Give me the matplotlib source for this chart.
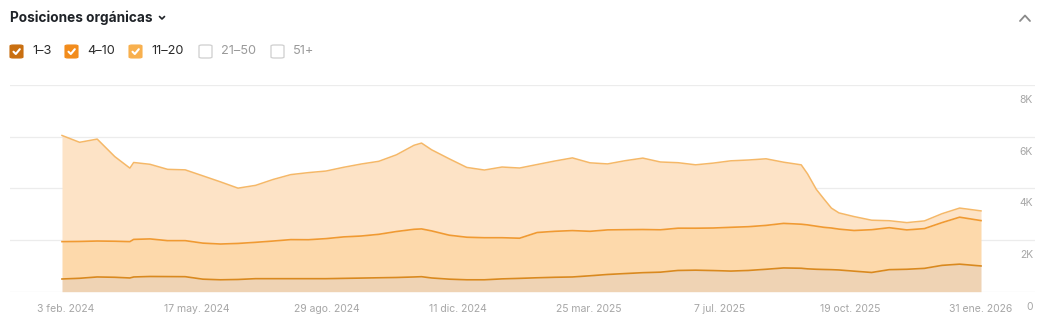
import matplotlib
matplotlib.use("Agg")
import matplotlib.pyplot as plt
from matplotlib.patches import FancyBboxPatch
from matplotlib.lines import Line2D
import numpy as np
import pandas as pd

# ---------------- data ----------------
dates = ["2024-01-31", "2024-02-14", "2024-02-28", "2024-03-13", "2024-03-25", "2024-03-28",
         "2024-04-10", "2024-04-24", "2024-05-08", "2024-05-22", "2024-06-05", "2024-06-19",
         "2024-07-03", "2024-07-17", "2024-07-31", "2024-08-14", "2024-08-28", "2024-09-11",
         "2024-09-25", "2024-10-09", "2024-10-23", "2024-11-06", "2024-11-12", "2024-11-20",
         "2024-12-04", "2024-12-18", "2025-01-01", "2025-01-15", "2025-01-29", "2025-02-12",
         "2025-02-26", "2025-03-12", "2025-03-26", "2025-04-09", "2025-04-23", "2025-05-07",
         "2025-05-21", "2025-06-04", "2025-06-18", "2025-07-02", "2025-07-16", "2025-07-30",
         "2025-08-13", "2025-08-27", "2025-09-10", "2025-09-15", "2025-09-22", "2025-09-28",
         "2025-10-04", "2025-10-10", "2025-10-22", "2025-11-05", "2025-11-19", "2025-12-03",
         "2025-12-17", "2025-12-31", "2026-01-14", "2026-01-31"]

pos_1_3 = [492, 519, 570, 558, 531, 570, 589, 585, 581, 485, 461, 473,
           504, 504, 504, 504, 504, 516, 527, 539, 550, 570, 581, 531,
           485, 461, 461, 496, 516, 539, 558, 570, 616, 667, 702, 736,
           756, 822, 833, 818, 798, 822, 868, 919, 907, 884, 868, 860,
           853, 841, 795, 744, 853, 868, 903, 1019, 1066, 996]

pos_4_10 = [1446, 1426, 1391, 1395, 1407, 1454, 1454, 1391, 1395, 1395, 1384, 1395,
            1407, 1457, 1512, 1508, 1550, 1605, 1628, 1682, 1779, 1845, 1849, 1822,
            1702, 1647, 1628, 1593, 1554, 1752, 1779, 1795, 1721, 1725, 1698, 1671,
            1640, 1636, 1624, 1647, 1694, 1694, 1698, 1725, 1705, 1702, 1667, 1632,
            1612, 1581, 1574, 1655, 1624, 1523, 1539, 1655, 1818, 1756]

pos_11_20 = [4109, 3837, 3946, 3275, 2845, 2977, 2888, 2760, 2740, 2605, 2407, 2140,
             2205, 2384, 2516, 2597, 2616, 2694, 2787, 2826, 2969, 3252, 3322, 3140,
             2957, 2702, 2620, 2736, 2717, 2632, 2721, 2814, 2651, 2554, 2671, 2764,
             2624, 2535, 2454, 2512, 2574, 2581, 2578, 2368, 2298, 1977, 1426, 1101,
             771, 628, 539, 368, 271, 283, 298, 345, 353, 376]

series_names = ["1–3", "4–10", "11–20", "21–50", "51+"]
series_checked = [True, True, True, False, False]

x_tick_dates = ["2024-02-03", "2024-05-17", "2024-08-29", "2024-12-11",
                "2025-03-25", "2025-07-07", "2025-10-19", "2026-01-31"]
x_tick_labels = ["3 feb. 2024", "17 may. 2024", "29 ago. 2024", "11 dic. 2024",
                 "25 mar. 2025", "7 jul. 2025", "19 oct. 2025", "31 ene. 2026"]
y_ticks = [0, 2000, 4000, 6000, 8000]
y_tick_labels = ["0", "2K", "4K", "6K", "8K"]

title = "Posiciones orgánicas"

# ---------------- style ----------------
W, H = 1044, 325
plt.rcParams["font.family"] = ["Inter", "DejaVu Sans"]
c13, c410, c1120 = "#c96f10", "#f28c1c", "#f8b04e"
fill13, fill410, fill1120 = "#efd3b4", "#fdd9ab", "#fde3c6"
line13, line410, line1120 = "#d9891f", "#f09a32", "#f5b868"
grid_c = "#ececec"
tick_c = "#a6a6a6"

fig = plt.figure(figsize=(W / 100, H / 100), dpi=100)
fig.patch.set_facecolor("white")

def fx(x):
    return x / W

def fy(y):
    return 1 - y / H

# axes: gridlines from x=10 to 1035, y 0 at 291.7 px, 8K at 85 px
ax_left, ax_right, ax_top, ax_bot = 10, 1035, 85, 291.7
ax = fig.add_axes([fx(ax_left), fy(ax_bot), (ax_right - ax_left) / W, (ax_bot - ax_top) / H])

d = pd.to_datetime(dates)
b = np.array(pos_1_3, dtype=float)
m = np.array(pos_4_10, dtype=float)
t = np.array(pos_11_20, dtype=float)
s1 = b
s2 = b + m
s3 = b + m + t

ax.fill_between(d, 0, s1, color=fill13, lw=0, zorder=2)
ax.fill_between(d, s1, s2, color=fill410, lw=0, zorder=2)
ax.fill_between(d, s2, s3, color=fill1120, lw=0, zorder=2)
ax.plot(d, s3, color=line1120, lw=1.1, zorder=4)
ax.plot(d, s2, color=line410, lw=1.2, zorder=4)
ax.plot(d, s1, color=line13, lw=1.2, zorder=4)

start = pd.Timestamp(dates[0])
end = pd.Timestamp(dates[-1])
px_per_day = (981 - 62) / (end - start).days
left_lim = start - pd.Timedelta(days=(62 - ax_left) / px_per_day)
right_lim = end + pd.Timedelta(days=(ax_right - 981) / px_per_day)
ax.set_xlim(left_lim, right_lim)
ax.set_ylim(0, 8000)

for sp in ax.spines.values():
    sp.set_visible(False)
ax.set_yticks(y_ticks)
ax.set_yticklabels([])
ax.tick_params(axis="y", length=0)
ax.grid(axis="y", color=grid_c, lw=0.9, zorder=1)
ax.set_axisbelow(True)

ax.set_xticks(pd.to_datetime(x_tick_dates))
ax.set_xticklabels(x_tick_labels, fontsize=7.5, color=tick_c)
ax.tick_params(axis="x", length=0, pad=9)

for v, lab in zip(y_ticks, y_tick_labels):
    ax.annotate(lab, xy=(1, v), xycoords=("axes fraction", "data"),
                xytext=(-2, -15), textcoords="offset pixels",
                ha="right", va="center", fontsize=7.5, color=tick_c)

# ---------------- header ----------------
fig.text(fx(10), fy(18), title, fontsize=9.8, fontweight="bold", color="#1f2328",
         ha="left", va="center")
# chevron next to title
fig.add_artist(Line2D([fx(159.5), fx(162), fx(164.5)], [fy(16.5), fy(19), fy(16.5)],
                      color="#1f2328", lw=1.2, solid_capstyle="round", solid_joinstyle="round"))
# collapse chevron top right
fig.add_artist(Line2D([fx(1020), fx(1025), fx(1030)], [fy(21), fy(15.5), fy(21)],
                      color="#8a8a8a", lw=1.3, solid_capstyle="round", solid_joinstyle="round"))

# legend checkboxes
box_x = [10, 65, 129, 199, 271]
box_colors = [c13, c410, c1120, None, None]
cy = 51.5
size = 13
for name, checked, bx, bc in zip(series_names, series_checked, box_x, box_colors):
    if checked:
        patch = FancyBboxPatch((fx(bx), fy(cy + size / 2)), fx(size), size / H,
                               boxstyle="round,pad=0,rounding_size=0.003",
                               transform=fig.transFigure, facecolor=bc, edgecolor=bc, lw=0.8)
        fig.add_artist(patch)
        fig.add_artist(Line2D([fx(bx + 3.5), fx(bx + 5.8), fx(bx + 9.8)],
                              [fy(cy + 0.2), fy(cy + 2.5), fy(cy - 2.3)],
                              color="white", lw=1.5, solid_capstyle="round", solid_joinstyle="round"))
        tc = "#2b2b2b"
    else:
        patch = FancyBboxPatch((fx(bx), fy(cy + size / 2)), fx(size), size / H,
                               boxstyle="round,pad=0,rounding_size=0.003",
                               transform=fig.transFigure, facecolor="white", edgecolor="#cfcfcf", lw=0.9)
        fig.add_artist(patch)
        tc = "#9a9a9a"
    fig.text(fx(bx + 22), fy(cy), name, fontsize=9.2, color=tc, ha="left", va="center")

fig.savefig("out.png", dpi=100, facecolor="white")
